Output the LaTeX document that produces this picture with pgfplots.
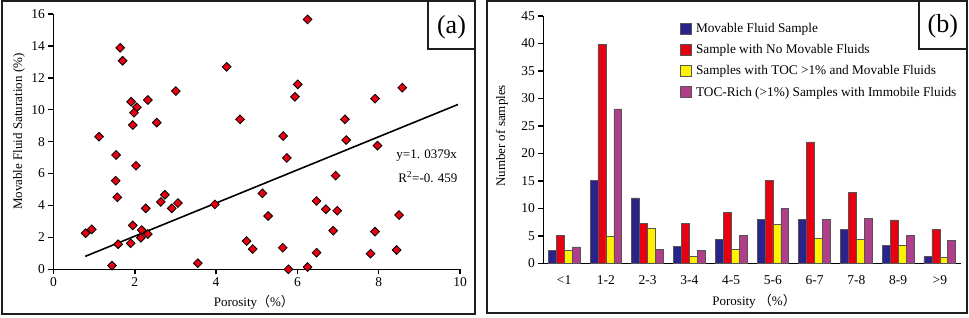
\documentclass[border=0pt]{standalone}
\usepackage{fontspec}
\setmainfont{Liberation Serif}
\newfontfamily\cjk{Noto Sans CJK SC}
\usepackage{pgfplots}
\pgfplotsset{compat=1.18}
\definecolor{mblue}{RGB}{40,36,140}
\definecolor{mred}{RGB}{230,0,18}
\definecolor{myellow}{RGB}{255,242,0}
\definecolor{mpurple}{RGB}{176,62,138}
\definecolor{framec}{RGB}{30,30,30}
\definecolor{barline}{RGB}{85,85,85}
\newcommand\fs[1]{\fontsize{#1}{#1}\selectfont}
\begin{document}
\begin{tikzpicture}[x=1pt,y=1pt]
\useasboundingbox (0,0) rectangle (969,318);
\draw[framec, line width=2pt] (1.7,316.5) rectangle (474.7,4.3);
\draw[framec, line width=2pt] (428,316.5) rectangle (474.7,268.5);
\draw[framec, line width=2pt] (487,317) rectangle (966.5,5.3);
\draw[framec, line width=2pt] (919.3,317) rectangle (966.5,269);
\node[font=\fs{26}] at (451.5,291) {(a)};
\node[font=\fs{26}] at (942.8,292) {(b)};

\begin{axis}[at={(53.5pt,48.7pt)}, anchor=south west, scale only axis,
  width=406.5pt, height=255.3pt,
  xmin=0, xmax=10, ymin=0, ymax=16,
  axis x line=bottom, axis y line=left,
  axis line style={-, line width=1.5pt},
  tick align=outside, major tick length=5pt,
  tick style={line width=1.5pt, black},
  xtick={0,2,...,10}, ytick={0,2,...,16},
  tick label style={font=\fs{13.5}},
  /pgf/number format/assume math mode=true,
  xlabel={Porosity{\cjk （}\%{\cjk ）}},
  ylabel={Movable Fluid Saturation (\%)},
  label style={font=\fs{13}},
  xlabel style={at={(axis description cs:0.493,-0.130)}, anchor=center},
  ylabel style={at={(axis description cs:-0.085,0.539)}, anchor=center},
  clip=false]
\addplot[black, line width=1.6pt] coordinates {(0.78,0.81) (9.95,10.33)};
\addplot[only marks, mark=square*, mark size=3.1pt,
  mark options={rotate=45, fill=mred, draw=black, line width=0.8pt}] coordinates {
(1.64,13.88) (1.70,13.07) (4.26,12.69) (3.01,11.17) (1.91,10.50) (2.32,10.61)
(2.05,10.15) (1.98,9.81) (1.95,9.04) (2.54,9.19) (4.59,9.40) (1.12,8.31)
(1.54,7.16) (6.25,15.66) (6.01,11.59) (5.94,10.81) (8.58,11.38) (7.91,10.69)
(7.17,9.40) (5.65,8.35) (7.20,8.10) (7.97,7.75) (5.74,6.98) (2.03,6.49)
(1.53,5.55) (1.57,4.51) (2.64,4.22) (2.74,4.67) (3.06,4.15) (2.91,3.82)
(2.27,3.82) (3.97,4.07) (0.79,2.26) (0.94,2.50) (1.95,2.75) (2.17,2.46)
(2.32,2.21) (2.15,1.98) (1.59,1.57) (1.90,1.63) (1.44,0.23) (3.55,0.38)
(4.75,1.77) (4.90,1.27) (5.14,4.76) (6.94,5.87) (6.47,4.28) (6.70,3.76)
(6.98,3.67) (8.50,3.40) (5.28,3.34) (6.88,2.42) (7.91,2.36) (5.64,1.35)
(6.47,1.04) (7.80,0.98) (8.44,1.21) (5.78,0.00) (6.25,0.14)
};
\node[anchor=west, font=\fs{13}] at (axis cs:8.35,7.10) {y=1. 0379x};
\node[anchor=west, font=\fs{13}] at (axis cs:8.40,5.78) {R\textsuperscript{2}=-0. 459};
\end{axis}

\begin{axis}[at={(543.3pt,54.7pt)}, anchor=south west, scale only axis,
  width=417.4pt, height=247.3pt,
  xmin=-0.5, xmax=9.5, ymin=0, ymax=45,
  axis x line=bottom, axis y line=left,
  axis line style={-, line width=1.5pt},
  tick align=outside, major tick length=5pt,
  tick style={line width=1.5pt, black},
  x tick style={draw=none},
  ytick={0,5,...,45}, xtick={0,...,9},
  xticklabels={<1,1-2,2-3,3-4,4-5,5-6,6-7,7-8,8-9,>9},
  tick label style={font=\fs{13.5}},
  xticklabel style={yshift=-4pt},
  /pgf/number format/assume math mode=true,
  xlabel={Porosity {\cjk （}\%{\cjk ）}},
  ylabel={Number of samples},
  label style={font=\fs{13}},
  xlabel style={at={(axis description cs:0.505,-0.152)}, anchor=center},
  ylabel style={at={(axis description cs:-0.099,0.515)}, anchor=center},
  legend cell align=left,
  legend style={at={(axis description cs:0.328,0.979)}, anchor=north west,
    draw=none, fill=none, font=\fs{13.3}, row sep=6.4pt, inner sep=0pt,
    nodes={inner xsep=4pt}},
  legend image code/.code={\fill (0pt,-5.5pt) rectangle (11pt,5.5pt);},
  clip=false]
\addplot[ybar, bar width=0.19, bar shift=-0.285, fill=mblue, draw=barline, line width=0.6pt]
  coordinates {(0,2.4) (1,15.1) (2,11.9) (3,3.1) (4,4.3) (5,8.0) (6,8.0) (7,6.2) (8,3.2) (9,1.2)};
\addplot[ybar, bar width=0.19, bar shift=-0.095, fill=mred, draw=barline, line width=0.6pt]
  coordinates {(0,5.1) (1,39.9) (2,7.2) (3,7.2) (4,9.2) (5,15.1) (6,22.1) (7,12.9) (8,7.9) (9,6.2)};
\addplot[ybar, bar width=0.19, bar shift=0.095, fill=myellow, draw=barline, line width=0.6pt]
  coordinates {(0,2.4) (1,5.0) (2,6.4) (3,1.2) (4,2.5) (5,7.1) (6,4.5) (7,4.3) (8,3.2) (9,1.1)};
\addplot[ybar, bar width=0.19, bar shift=0.285, fill=mpurple, draw=barline, line width=0.6pt]
  coordinates {(0,3.0) (1,28.1) (2,2.5) (3,2.4) (4,5.1) (5,10.0) (6,8.0) (7,8.2) (8,5.1) (9,4.2)};
\legend{Movable Fluid Sample, Sample with No Movable Fluids,
  Samples with TOC >1\% and Movable Fluids,
  TOC-Rich (>1\%) Samples with Immobile Fluids}
\end{axis}
\end{tikzpicture}
\end{document}
